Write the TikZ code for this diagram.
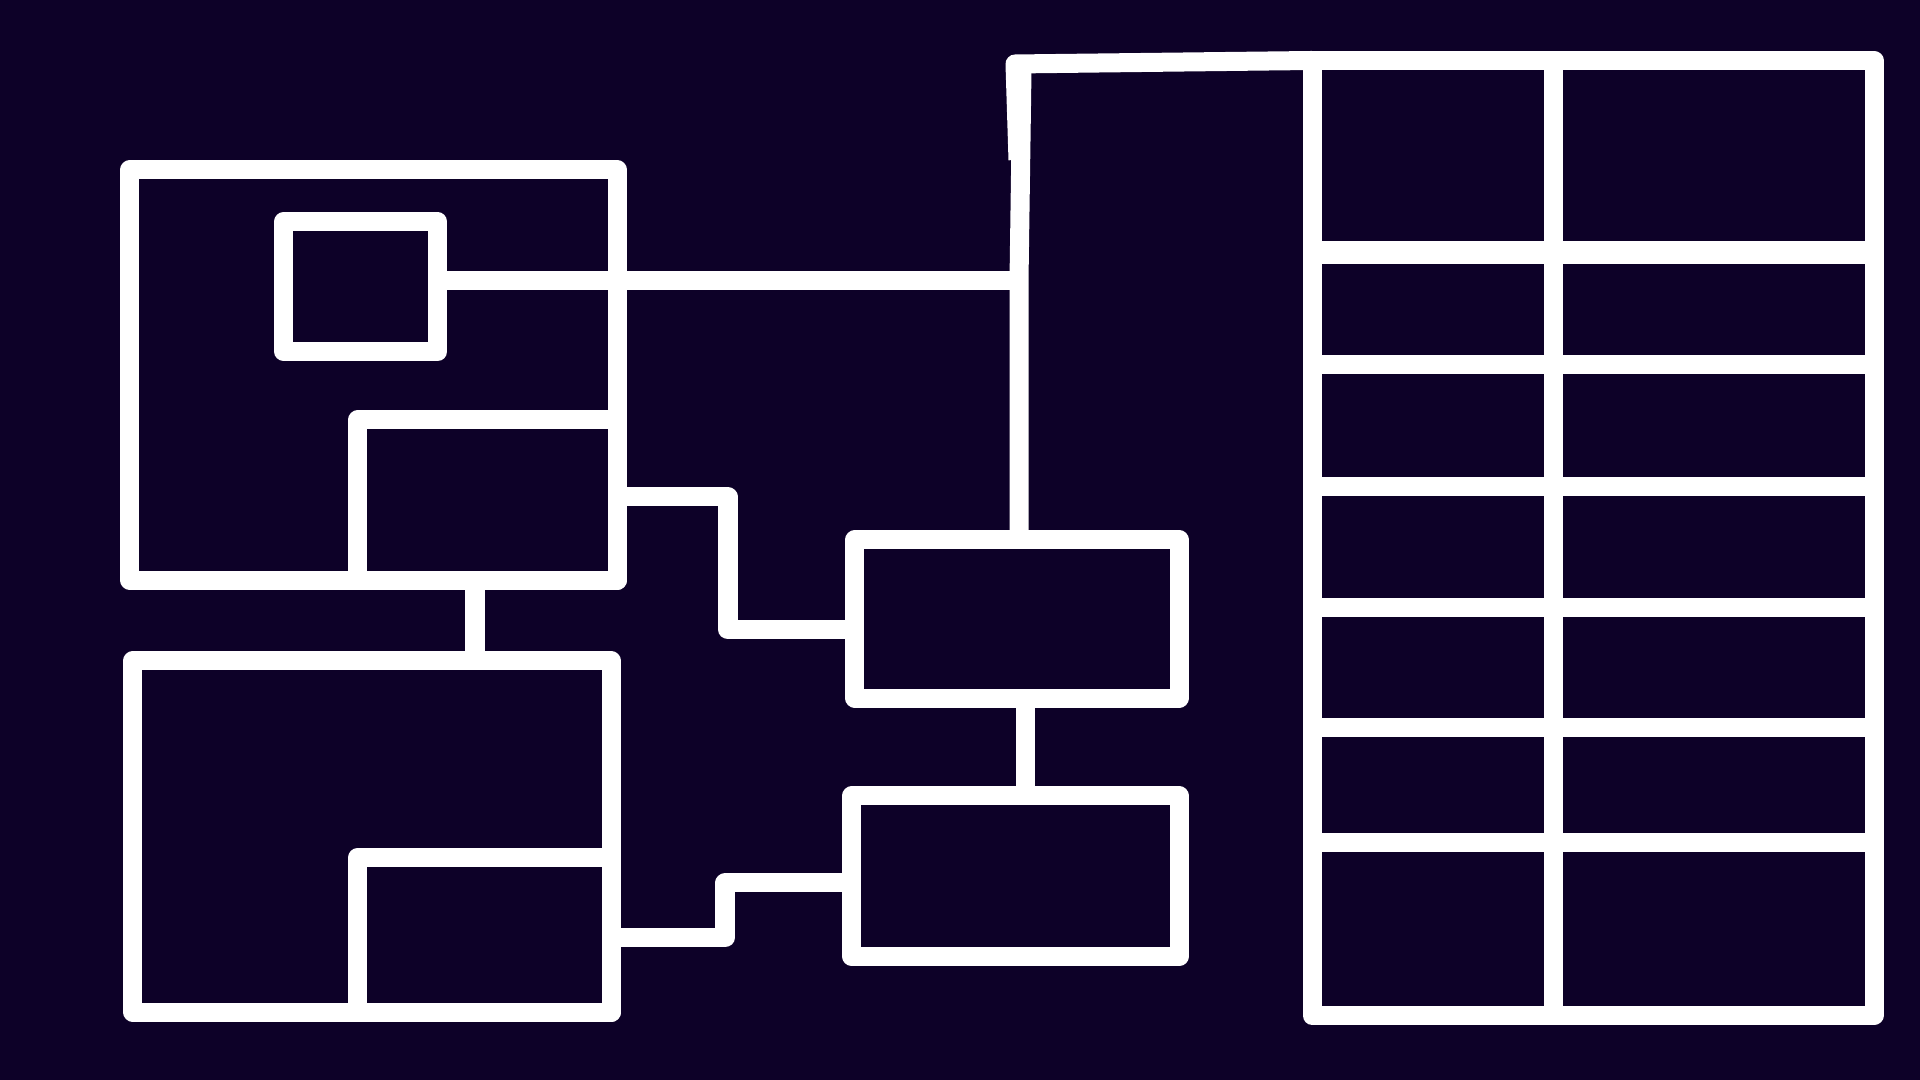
\documentclass[tikz,border=0pt]{standalone}
\definecolor{bg}{RGB}{13,1,40}
\begin{document}
\begin{tikzpicture}[x=0.01cm,y=-0.01cm,
  box/.style={draw=white, line width=0.19cm, line join=round, inner sep=0pt, outer sep=0pt, rectangle},
  link/.style={draw=white, line width=0.19cm, line join=round}]
\fill[bg] (0,0) rectangle (1920,1080);
\useasboundingbox (0,0) rectangle (1920,1080);

% left blocks
\node[box, minimum width=4.87cm, minimum height=4.10cm] (A) at (373.5,375) {};
\node[box, minimum width=1.535cm, minimum height=1.302cm] (B) at (360.75,286.6) {};
\node[box, minimum width=2.59cm, minimum height=1.60cm] (C) at (487.5,500) {};
\node[box, minimum width=4.78cm, minimum height=3.51cm] (E) at (372,836.5) {};
\node[box, minimum width=2.53cm, minimum height=1.545cm] (F) at (484.5,934.75) {};
% middle blocks
\node[box, minimum width=3.24cm, minimum height=1.58cm] (D) at (1017,619) {};
\node[box, minimum width=3.27cm, minimum height=1.605cm] (G) at (1015.5,876.25) {};

% table of cells
\foreach \r/\ya/\yb in {1/60.5/253, 2/253/365, 3/365/487, 4/487/608, 5/608/728, 6/728/843, 7/843/1015.5}{
  \foreach \c/\xa/\xb in {1/1312/1553, 2/1553/1874}{
    \node[box, minimum width={(\xb-\xa)*0.01cm}, minimum height={(\yb-\ya)*0.01cm}] (t\r\c) at ({(\xa+\xb)/2},{(\ya+\yb)/2}) {};
  }
}
\draw[link, line width=0.23cm] (t11.south west) -- (t12.south east);

% enclosure bracket from table to the column line
\coordinate (k1) at (1015,64);
\coordinate (k2) at (1018,160);
\coordinate (v) at (1019,281);
\coordinate (vt) at (1022,70);
\draw[link] (t11.north west) -- (k1) -- (k2);
\draw[link] (vt) -- (v) -- (D.north -| v);

% B to vertical column line
\draw[link] (B.east |- v) -- (v);

% A to E
\coordinate (r) at (475,0);
\draw[link] (A.south -| r) -- (E.north -| r);

% D to G
\coordinate (s) at (1025,0);
\draw[link] (D.south -| s) -- (G.north -| s);

% A to D
\coordinate (p1) at (728,497);
\coordinate (p2) at (728,630);
\draw[link] (A.east |- p1) -- (p1) -- (p2) -- (D.west |- p2);

% E to G
\coordinate (q1) at (725,938);
\coordinate (q2) at (725,883);
\draw[link] (E.east |- q1) -- (q1) -- (q2) -- (G.west |- q2);
\end{tikzpicture}
\end{document}
